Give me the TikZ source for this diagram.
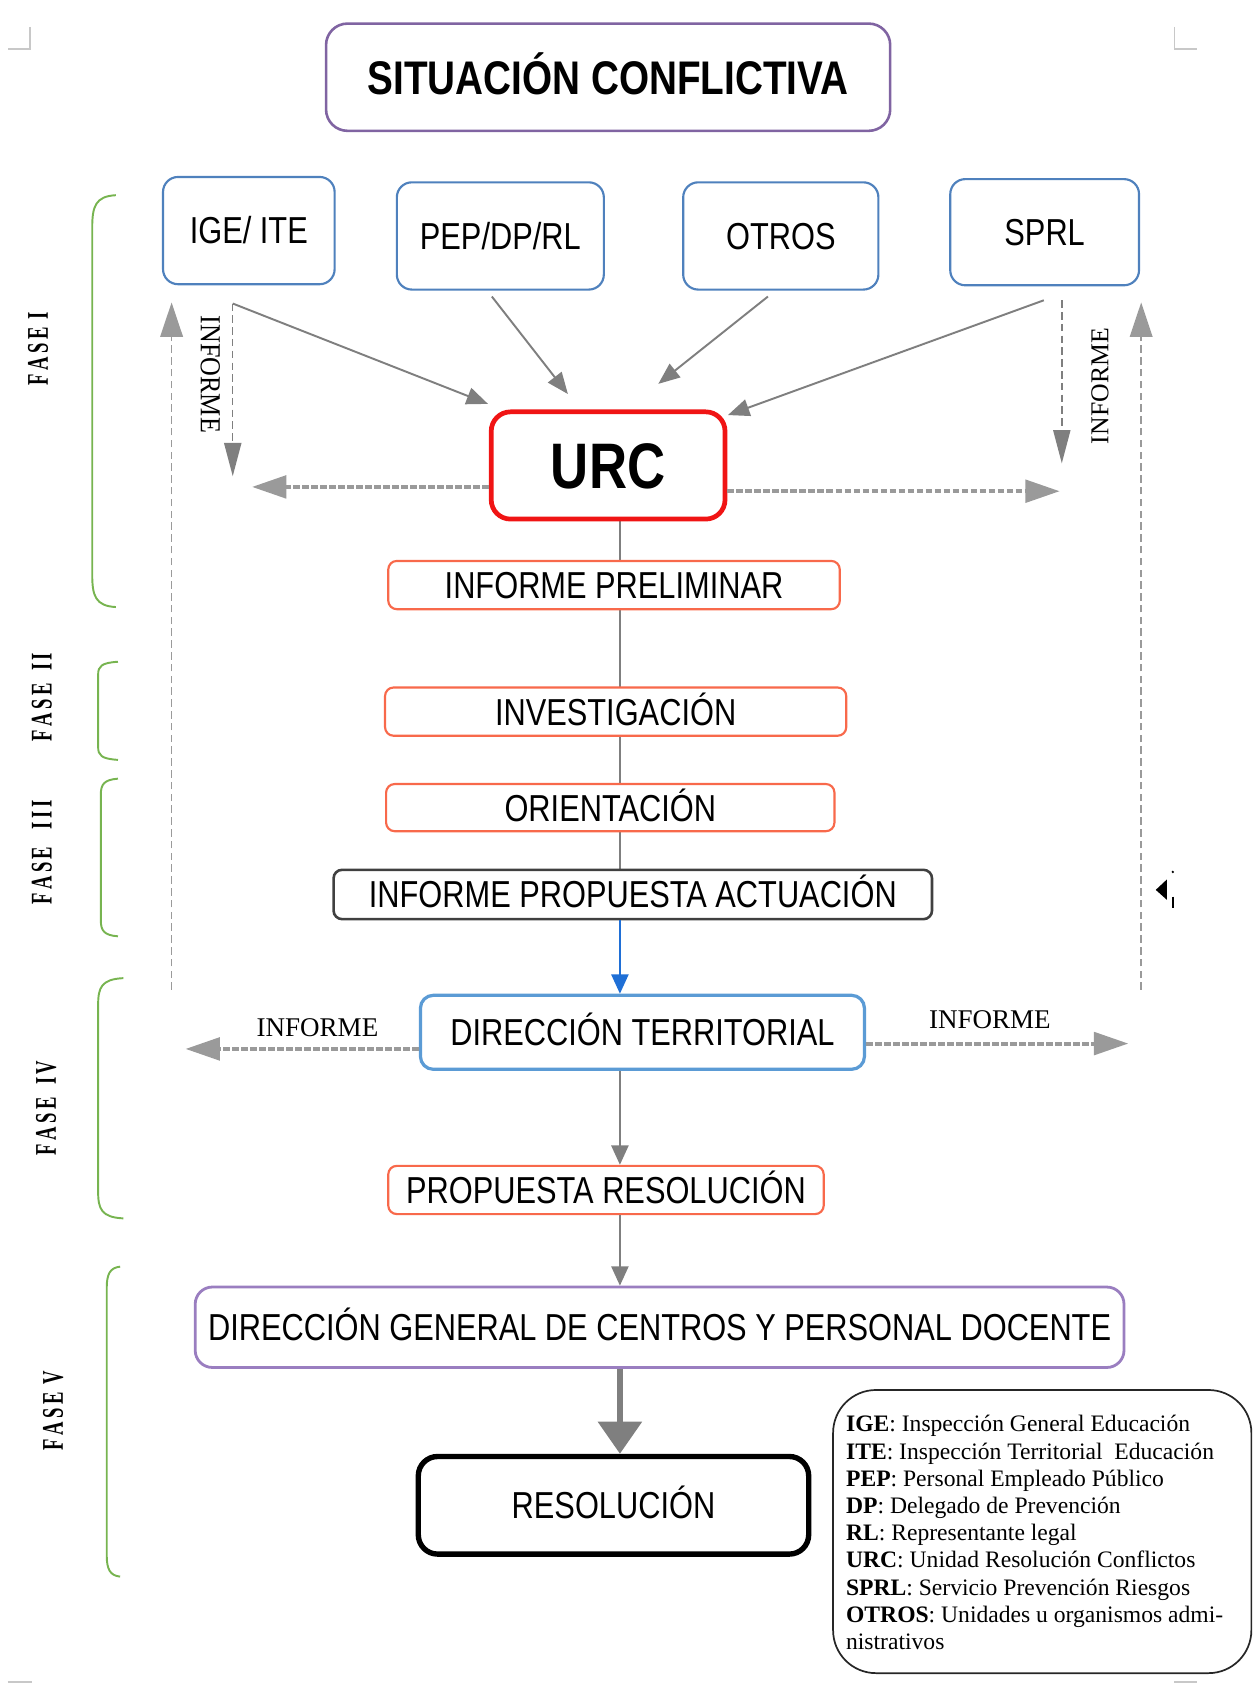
\documentclass[tikz,border=0pt]{standalone}
\usepackage{fontspec}
\setmainfont{Liberation Serif}
\newfontfamily\nar[FakeStretch=0.82]{Liberation Sans}
\newfontfamily\fasefnt[FakeStretch=0.62]{Liberation Serif}
\newfontfamily\infnt[FakeStretch=0.9]{Liberation Serif}
\usetikzlibrary{arrows.meta,backgrounds}
\definecolor{ttlpurple}{HTML}{8064A2}
\definecolor{topblue}{HTML}{4F81BD}
\definecolor{dtblue}{HTML}{5B9BD5}
\definecolor{coral}{HTML}{F8694B}
\definecolor{urcred}{HTML}{F01414}
\definecolor{dgpurple}{HTML}{9A7EC0}
\definecolor{fgreen}{HTML}{77B450}
\definecolor{arrgray}{HTML}{7F7F7F}
\definecolor{dashgray}{HTML}{9A9A9A}
\definecolor{bluearr}{HTML}{1F6FD6}
\definecolor{cornergray}{HTML}{C8C8C8}
\tikzset{
  box/.style={draw, fill=white, inner sep=0pt, align=center,
    font=\nar\fontsize{17.5}{20}\selectfont, text height=12.5pt, text depth=0pt},
  topbox/.style={box, draw=topblue, line width=1pt, rounded corners=7pt, minimum height=50pt},
  phasebox/.style={box, draw=coral, line width=1pt, rounded corners=4pt, minimum height=22.5pt},
  feed/.style={draw=arrgray, line width=0.9pt, -{Triangle[length=10pt,width=8pt]}},
  dashdown/.style={draw=arrgray, line width=0.7pt, dash pattern=on 3.5pt off 2pt, -{Triangle[length=15.5pt,width=8pt]}},
  farline/.style={draw=dashgray, line width=0.8pt, dash pattern=on 3.5pt off 2pt, -{Triangle[length=16pt,width=10.5pt]}},
  dotarrow/.style={draw=dashgray, line width=1.8pt, dash pattern=on 3pt off 1.2pt, -{Triangle[length=16pt,width=10.5pt]}},
  spine/.style={draw=arrgray, line width=0.7pt},
  downarr/.style={draw=arrgray, line width=0.9pt, -{Triangle[length=9pt,width=8pt]}},
  infolbl/.style={inner sep=0pt, font=\infnt\fontsize{13.5}{15}\selectfont},
  faselbl/.style={inner sep=0pt, rotate=90, font=\fasefnt\bfseries\fontsize{14}{16}\selectfont},
  fbrace/.style={draw=fgreen, line width=0.9pt},
  corner/.style={draw=cornergray, line width=0.8pt}
}
\newcommand{\fbr}[5]{% xl xr top bot r
  \draw[fbrace] (#2,#3) .. controls ({#1+3},{#3+1}) and (#1,{#3+0.35*#5}) .. (#1,{#3+#5})
    -- (#1,{#4-#5}) .. controls (#1,{#4-0.35*#5}) and ({#1+3},{#4-1}) .. (#2,#4);}
\newcommand{\lsp}{\kern1.6pt}
\begin{document}
\begin{tikzpicture}[x=0.5pt,y=-0.5pt]
\useasboundingbox (0,0) rectangle (1170,1572);
% page corner marks
\draw[corner] (28,25) -- (28,46) -- (7,46);
\draw[corner] (1095,25) -- (1095,46) -- (1116,46);
\draw[corner] (7,1568) -- (30,1568);
\draw[corner] (1095,1568) -- (1116,1568);

% nodes
\node[box, draw=ttlpurple, line width=1.2pt, rounded corners=10pt, minimum width=263pt, minimum height=50pt,
  font=\nar\bfseries\fontsize{22}{26}\selectfont, text height=15.8pt] (title) at (567,72) {SITUACIÓN CONFLICTIVA};
\node[topbox, minimum width=80pt] (ige) at (232,215) {IGE/ ITE};
\node[topbox, minimum width=96.5pt] (pep) at (466.5,220) {PEP/DP/RL};
\node[topbox, minimum width=91pt] (otros) at (728,220) {OTROS};
\node[topbox, minimum width=88pt, minimum height=49.5pt] (sprl) at (974,216.5) {SPRL};
\node[box, draw=urcred, line width=2.2pt, rounded corners=9pt, minimum width=109pt, minimum height=50pt,
  font=\nar\bfseries\fontsize{30}{34}\selectfont, text height=21.5pt] (urc) at (567,434) {URC};
\node[phasebox, minimum width=210.5pt] (iprel) at (572.5,545.5) {INFORME PRELIMINAR};
\node[phasebox, minimum width=215pt] (inv) at (574,663.5) {INVESTIGACIÓN};
\node[phasebox, minimum width=209pt, minimum height=22pt] (ori) at (569,753) {ORIENTACIÓN};
\node[box, draw=black!75, line width=1.2pt, rounded corners=4pt, minimum width=279pt, minimum height=23pt] (ipa) at (590,834) {INFORME PROPUESTA ACTUACIÓN};
\node[box, draw=dtblue, line width=1.5pt, rounded corners=6pt, minimum width=207pt, minimum height=34.5pt] (dt) at (599,962.5) {DIRECCIÓN TERRITORIAL};
\node[phasebox, minimum width=203pt] (pr) at (565,1109.5) {PROPUESTA RESOLUCIÓN};
\node[box, draw=dgpurple, line width=1.3pt, rounded corners=8pt, minimum width=433pt, minimum height=37.5pt] (dg) at (615,1237.5) {DIRECCIÓN GENERAL DE CENTROS Y PERSONAL DOCENTE};
\node[box, draw=black, line width=2.5pt, rounded corners=9pt, minimum width=182pt, minimum height=45.5pt] (res) at (572,1403.5) {RESOLUCIÓN};
\node[draw=black!85, line width=0.8pt, rounded corners=20pt, minimum width=195pt, minimum height=132pt, inner sep=0pt] (legend) at (971.75,1428) {};
\node[anchor=west, align=left, inner sep=0pt, font=\fontsize{11}{12.7}\selectfont] (legtext) at (788.5,1429) {%
\textbf{IGE}: Inspección General Educación\\
\textbf{ITE}: Inspección Territorial\ \ Educación\\
\textbf{PEP}: Personal Empleado Público\\
\textbf{DP}: Delegado de Prevención\\
\textbf{RL}: Representante legal\\
\textbf{URC}: Unidad Resolución Conflictos\\
\textbf{SPRL}: Servicio Prevención Riesgos\\
\textbf{OTROS}: Unidades u organismos admi-\\
nistrativos};

% labels
\node[infolbl, rotate=-90] (inf1) at (196,349) {INFORME};
\node[infolbl, rotate=90, font=\fontsize{12}{14}\selectfont] (inf2) at (1025.5,360) {INFORME};
\node[infolbl, font=\fontsize{12.6}{14}\selectfont] (inf3) at (296,958) {INFORME};
\node[infolbl, font=\fontsize{12.6}{14}\selectfont] (inf4) at (923,951) {INFORME};

\node[faselbl] (f1) at (35.4,325) {F\lsp A\lsp S\lsp E\lsp\ I};
\node[faselbl] (f2) at (39,650) {F\lsp A\lsp S\lsp E\lsp\ \ I\lsp I};
\node[faselbl] (f3) at (39,795) {F\lsp A\lsp S\lsp E\lsp\ \ \ I\lsp I\lsp I};
\node[faselbl] (f4) at (43,1033) {F\lsp A\lsp S\lsp E\lsp\ \ I\lsp V};
\node[faselbl] (f5) at (49.5,1315) {F\lsp A\lsp S\lsp E\lsp\ V};

% braces
\fbr{86}{108}{182}{566}{30}
\fbr{91.5}{110}{617}{708.5}{12}
\fbr{94}{110}{726}{873}{15}
\fbr{91.5}{115}{912}{1136}{25}
\fbr{99.5}{112}{1181}{1470}{20}

% coordinates
\coordinate (sx) at (578,0);
\coordinate (igeo) at (217,283);
\coordinate (igeA) at (455,376.6);
\coordinate (pepo) at (458.6,276.5);
\coordinate (pepA) at (529.5,367.4);
\coordinate (otro) at (716,276.5);
\coordinate (otrA) at (613.8,357.9);
\coordinate (sprlo) at (973.2,280);
\coordinate (sprlA) at (678.7,387);
\coordinate (ldn) at (217,444);
\coordinate (rdo) at (990,280);
\coordinate (rdn) at (990,432);
\coordinate (flb) at (160,923);
\coordinate (flt) at (160,282);
\coordinate (frb) at (1064,923);
\coordinate (frt) at (1064,282);
\coordinate (uLt) at (235,454);
\coordinate (uRt) at (988,458);
\coordinate (dLt) at (173,978);
\coordinate (dRt) at (1052,973);

\begin{scope}[on background layer]
\draw[spine] (urc.south -| sx) -- (ipa.north -| sx);
\end{scope}
\draw[feed] (igeo) -- (igeA);
\draw[feed] (pepo) -- (pepA);
\draw[feed] (otro) -- (otrA);
\draw[feed] (sprlo) -- (sprlA);
\draw[dashdown] (igeo) -- (ldn);
\draw[dashdown] (rdo) -- (rdn);
\draw[farline] (flb) -- (flt);
\draw[farline] (frb) -- (frt);
\draw[dotarrow] (urc.west |- uLt) -- (uLt);
\draw[dotarrow] (urc.east |- uRt) -- (uRt);
\draw[dotarrow] (dt.west |- dLt) -- (dLt);
\draw[dotarrow] (dt.east |- dRt) -- (dRt);
\draw[draw=bluearr, line width=0.9pt, -{Triangle[length=9pt,width=8pt]}] (ipa.south -| sx) -- (dt.north -| sx);
\draw[downarr] (dt.south -| sx) -- (pr.north -| sx);
\draw[downarr] (pr.south -| sx) -- (dg.north -| sx);
\draw[draw=arrgray, line width=3pt, -{Triangle[length=15pt,width=20pt]}] (dg.south -| sx) -- (res.north -| sx);

% small stray marker
\fill[black] (1077.6,829.7) -- (1088,820) -- (1088,839) -- cycle;
\draw[black, line width=1pt] (1093.5,836) -- (1093.5,847);
\fill[black] (1093.5,813) circle (0.6pt);
\end{tikzpicture}
\end{document}
